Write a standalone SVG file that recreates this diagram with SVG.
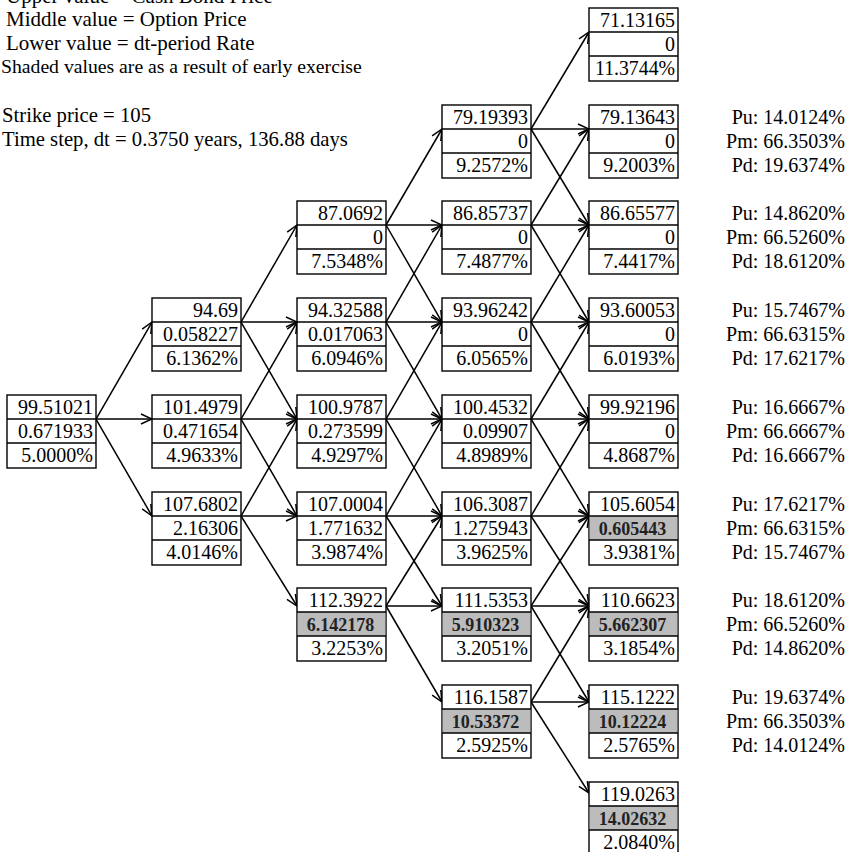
<svg xmlns="http://www.w3.org/2000/svg" width="848" height="852" viewBox="0 0 848 852">
<style>
text{font-family:"Liberation Serif","Times New Roman",serif;fill:#000}
.h{font-size:21px}
.v{font-size:20px;text-anchor:end}
.b{font-size:18px;font-weight:bold;text-anchor:middle;fill:#222}
.p{font-size:20px;text-anchor:end}
.box{fill:#fff;stroke:#000;stroke-width:1.4}
.sep{stroke:#000;stroke-width:1.4}
.sh{fill:#bcbcbc}
#connectors line{stroke:#000;stroke-width:1.5;marker-end:url(#ah)}
</style>
<defs>
<marker id="ah" viewBox="-12 -7 13 14" refX="0" refY="0" markerWidth="13" markerHeight="14" markerUnits="userSpaceOnUse" orient="auto">
<path d="M-11,-5 L0,0 L-11,5" fill="none" stroke="#000" stroke-width="1.5"/>
</marker>
</defs>
<rect width="848" height="852" fill="#fff"/>
<g id="legend">
<text class="h" x="6" y="2.5">Upper value = Cash Bond Price</text>
<text class="h" x="6" y="26">Middle value = Option Price</text>
<text class="h" x="6" y="49.5">Lower value = dt-period Rate</text>
<text class="h" x="1" y="73" style="font-size:19.7px">Shaded values are as a result of early exercise</text>
<text class="h" x="2" y="122" style="font-size:20.7px">Strike price = 105</text>
<text class="h" x="2" y="146" style="font-size:20.7px">Time step, dt = 0.3750 years, 136.88 days</text>
</g>
<g id="connectors">
<line x1="96" y1="419" x2="152" y2="322"/>
<line x1="96" y1="419" x2="152" y2="419"/>
<line x1="96" y1="419" x2="152" y2="516"/>
<line x1="241" y1="322" x2="297" y2="225"/>
<line x1="241" y1="322" x2="297" y2="322"/>
<line x1="241" y1="322" x2="297" y2="419"/>
<line x1="241" y1="419" x2="297" y2="322"/>
<line x1="241" y1="419" x2="297" y2="419"/>
<line x1="241" y1="419" x2="297" y2="516"/>
<line x1="241" y1="516" x2="297" y2="419"/>
<line x1="241" y1="516" x2="297" y2="516"/>
<line x1="241" y1="516" x2="297" y2="606"/>
<line x1="386" y1="225" x2="442" y2="129"/>
<line x1="386" y1="225" x2="442" y2="225"/>
<line x1="386" y1="225" x2="442" y2="322"/>
<line x1="386" y1="322" x2="442" y2="225"/>
<line x1="386" y1="322" x2="442" y2="322"/>
<line x1="386" y1="322" x2="442" y2="419"/>
<line x1="386" y1="419" x2="442" y2="322"/>
<line x1="386" y1="419" x2="442" y2="419"/>
<line x1="386" y1="419" x2="442" y2="516"/>
<line x1="386" y1="516" x2="442" y2="419"/>
<line x1="386" y1="516" x2="442" y2="516"/>
<line x1="386" y1="516" x2="442" y2="606"/>
<line x1="386" y1="606" x2="442" y2="516"/>
<line x1="386" y1="606" x2="442" y2="606"/>
<line x1="386" y1="606" x2="442" y2="702"/>
<line x1="531" y1="129" x2="589" y2="32"/>
<line x1="531" y1="129" x2="589" y2="129"/>
<line x1="531" y1="129" x2="589" y2="225"/>
<line x1="531" y1="225" x2="589" y2="129"/>
<line x1="531" y1="225" x2="589" y2="225"/>
<line x1="531" y1="225" x2="589" y2="322"/>
<line x1="531" y1="322" x2="589" y2="225"/>
<line x1="531" y1="322" x2="589" y2="322"/>
<line x1="531" y1="322" x2="589" y2="419"/>
<line x1="531" y1="419" x2="589" y2="322"/>
<line x1="531" y1="419" x2="589" y2="419"/>
<line x1="531" y1="419" x2="589" y2="516"/>
<line x1="531" y1="516" x2="589" y2="419"/>
<line x1="531" y1="516" x2="589" y2="516"/>
<line x1="531" y1="516" x2="589" y2="606"/>
<line x1="531" y1="606" x2="589" y2="516"/>
<line x1="531" y1="606" x2="589" y2="606"/>
<line x1="531" y1="606" x2="589" y2="702"/>
<line x1="531" y1="702" x2="589" y2="606"/>
<line x1="531" y1="702" x2="589" y2="702"/>
<line x1="531" y1="702" x2="589" y2="793"/>
</g>
<!-- column 0 -->
<g id="n0_0" transform="translate(7,395)"><rect class="box" width="89" height="73"/><line class="sep" x1="0" y1="24" x2="89" y2="24"/><line class="sep" x1="0" y1="48" x2="89" y2="48"/><text class="v" x="86" y="19">99.51021</text><text class="v" x="86" y="43">0.671933</text><text class="v" x="86" y="67">5.0000%</text></g>
<!-- column 1 -->
<g id="n1_m1" transform="translate(152,298)"><rect class="box" width="89" height="73"/><line class="sep" x1="0" y1="24" x2="89" y2="24"/><line class="sep" x1="0" y1="48" x2="89" y2="48"/><text class="v" x="86" y="19">94.69</text><text class="v" x="86" y="43">0.058227</text><text class="v" x="86" y="67">6.1362%</text></g>
<g id="n1_0" transform="translate(152,395)"><rect class="box" width="89" height="73"/><line class="sep" x1="0" y1="24" x2="89" y2="24"/><line class="sep" x1="0" y1="48" x2="89" y2="48"/><text class="v" x="86" y="19">101.4979</text><text class="v" x="86" y="43">0.471654</text><text class="v" x="86" y="67">4.9633%</text></g>
<g id="n1_1" transform="translate(152,492)"><rect class="box" width="89" height="73"/><line class="sep" x1="0" y1="24" x2="89" y2="24"/><line class="sep" x1="0" y1="48" x2="89" y2="48"/><text class="v" x="86" y="19">107.6802</text><text class="v" x="86" y="43">2.16306</text><text class="v" x="86" y="67">4.0146%</text></g>
<!-- column 2 -->
<g id="n2_m2" transform="translate(297,201)"><rect class="box" width="89" height="73"/><line class="sep" x1="0" y1="24" x2="89" y2="24"/><line class="sep" x1="0" y1="48" x2="89" y2="48"/><text class="v" x="86" y="19">87.0692</text><text class="v" x="86" y="43">0</text><text class="v" x="86" y="67">7.5348%</text></g>
<g id="n2_m1" transform="translate(297,298)"><rect class="box" width="89" height="73"/><line class="sep" x1="0" y1="24" x2="89" y2="24"/><line class="sep" x1="0" y1="48" x2="89" y2="48"/><text class="v" x="86" y="19">94.32588</text><text class="v" x="86" y="43">0.017063</text><text class="v" x="86" y="67">6.0946%</text></g>
<g id="n2_0" transform="translate(297,395)"><rect class="box" width="89" height="73"/><line class="sep" x1="0" y1="24" x2="89" y2="24"/><line class="sep" x1="0" y1="48" x2="89" y2="48"/><text class="v" x="86" y="19">100.9787</text><text class="v" x="86" y="43">0.273599</text><text class="v" x="86" y="67">4.9297%</text></g>
<g id="n2_1" transform="translate(297,492)"><rect class="box" width="89" height="73"/><line class="sep" x1="0" y1="24" x2="89" y2="24"/><line class="sep" x1="0" y1="48" x2="89" y2="48"/><text class="v" x="86" y="19">107.0004</text><text class="v" x="86" y="43">1.771632</text><text class="v" x="86" y="67">3.9874%</text></g>
<g id="n2_2" transform="translate(297,588)"><rect class="box" width="89" height="73"/><rect class="sh" x="0.7" y="24" width="87.6" height="24"/><line class="sep" x1="0" y1="24" x2="89" y2="24"/><line class="sep" x1="0" y1="48" x2="89" y2="48"/><text class="v" x="86" y="19">112.3922</text><text class="b" x="43.5" y="43">6.142178</text><text class="v" x="86" y="67">3.2253%</text></g>
<!-- column 3 -->
<g id="n3_m3" transform="translate(442,105)"><rect class="box" width="89" height="73"/><line class="sep" x1="0" y1="24" x2="89" y2="24"/><line class="sep" x1="0" y1="48" x2="89" y2="48"/><text class="v" x="86" y="19">79.19393</text><text class="v" x="86" y="43">0</text><text class="v" x="86" y="67">9.2572%</text></g>
<g id="n3_m2" transform="translate(442,201)"><rect class="box" width="89" height="73"/><line class="sep" x1="0" y1="24" x2="89" y2="24"/><line class="sep" x1="0" y1="48" x2="89" y2="48"/><text class="v" x="86" y="19">86.85737</text><text class="v" x="86" y="43">0</text><text class="v" x="86" y="67">7.4877%</text></g>
<g id="n3_m1" transform="translate(442,298)"><rect class="box" width="89" height="73"/><line class="sep" x1="0" y1="24" x2="89" y2="24"/><line class="sep" x1="0" y1="48" x2="89" y2="48"/><text class="v" x="86" y="19">93.96242</text><text class="v" x="86" y="43">0</text><text class="v" x="86" y="67">6.0565%</text></g>
<g id="n3_0" transform="translate(442,395)"><rect class="box" width="89" height="73"/><line class="sep" x1="0" y1="24" x2="89" y2="24"/><line class="sep" x1="0" y1="48" x2="89" y2="48"/><text class="v" x="86" y="19">100.4532</text><text class="v" x="86" y="43">0.09907</text><text class="v" x="86" y="67">4.8989%</text></g>
<g id="n3_1" transform="translate(442,492)"><rect class="box" width="89" height="73"/><line class="sep" x1="0" y1="24" x2="89" y2="24"/><line class="sep" x1="0" y1="48" x2="89" y2="48"/><text class="v" x="86" y="19">106.3087</text><text class="v" x="86" y="43">1.275943</text><text class="v" x="86" y="67">3.9625%</text></g>
<g id="n3_2" transform="translate(442,588)"><rect class="box" width="89" height="73"/><rect class="sh" x="0.7" y="24" width="87.6" height="24"/><line class="sep" x1="0" y1="24" x2="89" y2="24"/><line class="sep" x1="0" y1="48" x2="89" y2="48"/><text class="v" x="86" y="19">111.5353</text><text class="b" x="43.5" y="43">5.910323</text><text class="v" x="86" y="67">3.2051%</text></g>
<g id="n3_3" transform="translate(442,685)"><rect class="box" width="89" height="73"/><rect class="sh" x="0.7" y="24" width="87.6" height="24"/><line class="sep" x1="0" y1="24" x2="89" y2="24"/><line class="sep" x1="0" y1="48" x2="89" y2="48"/><text class="v" x="86" y="19">116.1587</text><text class="b" x="43.5" y="43">10.53372</text><text class="v" x="86" y="67">2.5925%</text></g>
<!-- column 4 -->
<g id="n4_m4" transform="translate(589,8)"><rect class="box" width="89" height="73"/><line class="sep" x1="0" y1="24" x2="89" y2="24"/><line class="sep" x1="0" y1="48" x2="89" y2="48"/><text class="v" x="86" y="19">71.13165</text><text class="v" x="86" y="43">0</text><text class="v" x="86" y="67" textLength="80" lengthAdjust="spacingAndGlyphs">11.3744%</text></g>
<g id="n4_m3" transform="translate(589,105)"><rect class="box" width="89" height="73"/><line class="sep" x1="0" y1="24" x2="89" y2="24"/><line class="sep" x1="0" y1="48" x2="89" y2="48"/><text class="v" x="86" y="19">79.13643</text><text class="v" x="86" y="43">0</text><text class="v" x="86" y="67">9.2003%</text></g>
<g id="n4_m2" transform="translate(589,201)"><rect class="box" width="89" height="73"/><line class="sep" x1="0" y1="24" x2="89" y2="24"/><line class="sep" x1="0" y1="48" x2="89" y2="48"/><text class="v" x="86" y="19">86.65577</text><text class="v" x="86" y="43">0</text><text class="v" x="86" y="67">7.4417%</text></g>
<g id="n4_m1" transform="translate(589,298)"><rect class="box" width="89" height="73"/><line class="sep" x1="0" y1="24" x2="89" y2="24"/><line class="sep" x1="0" y1="48" x2="89" y2="48"/><text class="v" x="86" y="19">93.60053</text><text class="v" x="86" y="43">0</text><text class="v" x="86" y="67">6.0193%</text></g>
<g id="n4_0" transform="translate(589,395)"><rect class="box" width="89" height="73"/><line class="sep" x1="0" y1="24" x2="89" y2="24"/><line class="sep" x1="0" y1="48" x2="89" y2="48"/><text class="v" x="86" y="19">99.92196</text><text class="v" x="86" y="43">0</text><text class="v" x="86" y="67">4.8687%</text></g>
<g id="n4_1" transform="translate(589,492)"><rect class="box" width="89" height="73"/><rect class="sh" x="0.7" y="24" width="87.6" height="24"/><line class="sep" x1="0" y1="24" x2="89" y2="24"/><line class="sep" x1="0" y1="48" x2="89" y2="48"/><text class="v" x="86" y="19">105.6054</text><text class="b" x="43.5" y="43">0.605443</text><text class="v" x="86" y="67">3.9381%</text></g>
<g id="n4_2" transform="translate(589,588)"><rect class="box" width="89" height="73"/><rect class="sh" x="0.7" y="24" width="87.6" height="24"/><line class="sep" x1="0" y1="24" x2="89" y2="24"/><line class="sep" x1="0" y1="48" x2="89" y2="48"/><text class="v" x="86" y="19">110.6623</text><text class="b" x="43.5" y="43">5.662307</text><text class="v" x="86" y="67">3.1854%</text></g>
<g id="n4_3" transform="translate(589,685)"><rect class="box" width="89" height="73"/><rect class="sh" x="0.7" y="24" width="87.6" height="24"/><line class="sep" x1="0" y1="24" x2="89" y2="24"/><line class="sep" x1="0" y1="48" x2="89" y2="48"/><text class="v" x="86" y="19">115.1222</text><text class="b" x="43.5" y="43">10.12224</text><text class="v" x="86" y="67">2.5765%</text></g>
<g id="n4_4" transform="translate(589,782)"><rect class="box" width="89" height="73"/><rect class="sh" x="0.7" y="24" width="87.6" height="24"/><line class="sep" x1="0" y1="24" x2="89" y2="24"/><line class="sep" x1="0" y1="48" x2="89" y2="48"/><text class="v" x="86" y="19">119.0263</text><text class="b" x="43.5" y="43">14.02632</text><text class="v" x="86" y="67">2.0840%</text></g>
<!-- probabilities -->
<g id="probs">
<g transform="translate(845,105)"><text class="p" y="19">Pu: 14.0124%</text><text class="p" y="43">Pm: 66.3503%</text><text class="p" y="67">Pd: 19.6374%</text></g>
<g transform="translate(845,201)"><text class="p" y="19">Pu: 14.8620%</text><text class="p" y="43">Pm: 66.5260%</text><text class="p" y="67">Pd: 18.6120%</text></g>
<g transform="translate(845,298)"><text class="p" y="19">Pu: 15.7467%</text><text class="p" y="43">Pm: 66.6315%</text><text class="p" y="67">Pd: 17.6217%</text></g>
<g transform="translate(845,395)"><text class="p" y="19">Pu: 16.6667%</text><text class="p" y="43">Pm: 66.6667%</text><text class="p" y="67">Pd: 16.6667%</text></g>
<g transform="translate(845,492)"><text class="p" y="19">Pu: 17.6217%</text><text class="p" y="43">Pm: 66.6315%</text><text class="p" y="67">Pd: 15.7467%</text></g>
<g transform="translate(845,588)"><text class="p" y="19">Pu: 18.6120%</text><text class="p" y="43">Pm: 66.5260%</text><text class="p" y="67">Pd: 14.8620%</text></g>
<g transform="translate(845,685)"><text class="p" y="19">Pu: 19.6374%</text><text class="p" y="43">Pm: 66.3503%</text><text class="p" y="67">Pd: 14.0124%</text></g>
</g>
</svg>
